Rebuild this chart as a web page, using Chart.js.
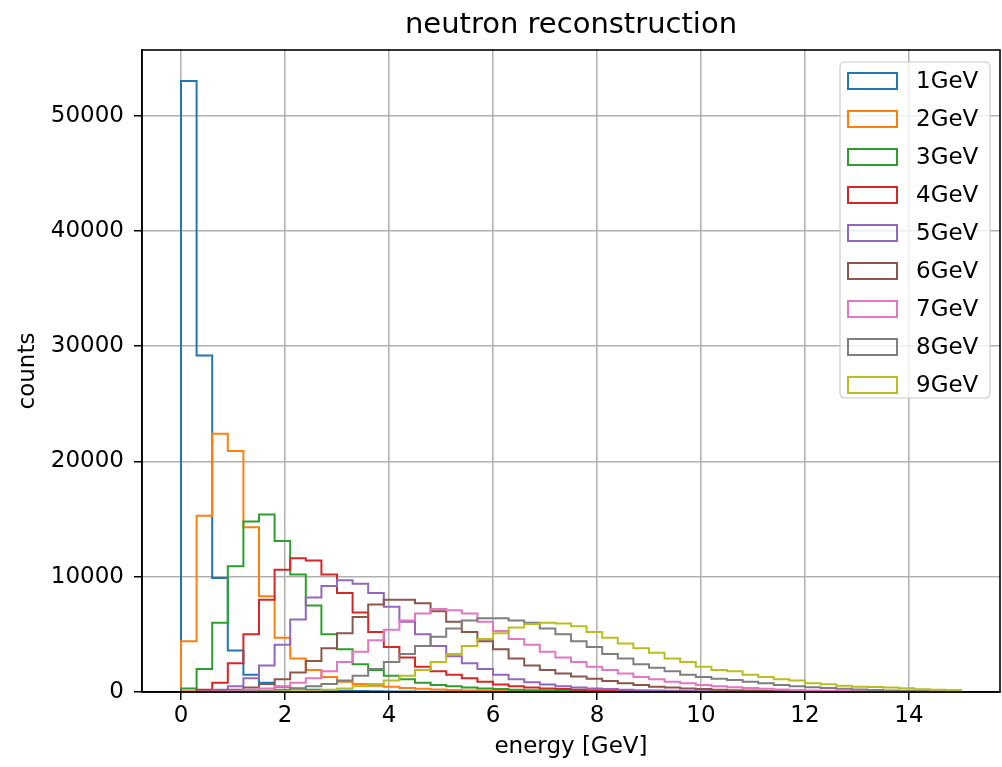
<!DOCTYPE html>
<html><head><meta charset="utf-8">
<script src="https://cdn.jsdelivr.net/npm/chart.js@4"></script>
<style>html,body{margin:0;padding:0;background:#fff}#wrap{width:1002px;height:767px}</style>
</head><body><div id="wrap"><canvas id="c" width="1002" height="767"></canvas></div>
<script>
const titleText = 'neutron reconstruction';
const xTitle = 'energy [GeV]';
const yTitle = 'counts';
const seriesLabels = ['1GeV','2GeV','3GeV','4GeV','5GeV','6GeV','7GeV','8GeV','9GeV'];
const binEdges = [0,0.3,0.6,0.9,1.2,1.5,1.8,2.1,2.4,2.7,3.0,3.3,3.6,3.9,4.2,4.5,4.8,5.1,5.4,5.7,6.0,6.3,6.6,6.9,7.2,7.5,7.8,8.1,8.4,8.7,9.0,9.3,9.6,9.9,10.2,10.5,10.8,11.1,11.4,11.7,12.0,12.3,12.6,12.9,13.2,13.5,13.8,14.1,14.4,14.7,15.0];
const xTickValues = [0,2,4,6,8,10,12,14];
const yTickValues = [0,10000,20000,30000,40000,50000];

const counts1GeV = [53000,29200,9900,3600,1500,800,450,300,200,150, 100,80,60,50,40,30,30,20,20,10, 10,10,0,0,0,0,0,0,0,0, 0,0,0,0,0,0,0,0,0,0, 0,0,0,0,0,0,0,0,0,0];
const counts2GeV = [4400,15300,22400,20900,14300,8300,4700,2900,1900,1300, 900,700,550,450,350,280,220,170,130,100, 80,60,50,40,30,20,20,10,10,10, 0,0,0,0,0,0,0,0,0,0, 0,0,0,0,0,0,0,0,0,0];
const counts3GeV = [300,2000,6000,10900,14800,15400,13100,10200,7500,5000, 3700,2400,1900,1400,1100,800,600,500,400,300, 250,200,150,120,100,80,60,50,40,30, 20,20,10,10,10,0,0,0,0,0, 0,0,0,0,0,0,0,0,0,0];
const counts4GeV = [50,200,800,2500,5000,8000,10600,11600,11400,10200, 8600,6900,5200,3900,3000,2200,1800,1500,1200,900, 650,500,400,300,250,200,150,120,100,80, 60,50,40,30,20,20,10,10,10,0, 0,0,0,0,0,0,0,0,0,0];
const counts5GeV = [0,50,200,500,1200,2300,4100,6300,8200,9200, 9700,9400,8600,7400,6100,5000,4000,3100,2500,2000, 1500,1100,850,650,500,400,300,250,200,150, 120,100,80,60,50,40,30,20,20,10, 10,0,0,0,0,0,0,0,0,0];
const counts6GeV = [0,20,100,200,400,700,1100,1700,2700,3800, 5100,6500,7600,8000,8000,7700,7000,6100,5200,4400, 3700,2900,2300,1900,1600,1350,1150,950,750,600, 450,380,300,250,200,150,120,100,80,60, 50,40,30,20,20,10,10,0,0,0];
const counts7GeV = [0,0,50,100,200,300,500,800,1200,1800, 2600,3500,4500,5400,6200,6800,7200,7100,6800,6100, 5300,4600,4100,3500,3000,2600,2200,1900,1600,1300, 1100,900,750,600,500,420,350,280,220,180, 140,110,90,70,50,40,30,20,20,10];
const counts8GeV = [0,0,0,20,50,100,200,300,500,700, 1000,1400,2000,2600,3300,4000,4800,5500,6200,6400, 6400,6200,6000,5500,5000,4400,3900,3300,2900,2400, 2100,1800,1500,1300,1150,1050,900,750,600,500, 420,350,280,220,180,140,100,80,60,50];
const counts9GeV = [0,0,0,0,0,20,40,60,100,200, 300,500,700,1000,1400,1900,2600,3300,4000,4600, 5100,5600,5900,6000,5950,5700,5200,4700,4200,3800, 3400,2900,2600,2200,1900,1800,1500,1300,1100,1000, 750,670,550,460,440,380,320,230,200,170];

const allCounts = [counts1GeV,counts2GeV,counts3GeV,counts4GeV,counts5GeV,counts6GeV,counts7GeV,counts8GeV,counts9GeV];
const colors = ['#1f77b4','#ff7f0e','#2ca02c','#d62728','#9467bd','#8c564b','#e377c2','#7f7f7f','#bcbd22'];
const FONT = 'DejaVu Sans';

function stepPoints(values){
  const pts = [{x: binEdges[0], y: 0}];
  values.forEach((v, i) => pts.push({x: binEdges[i], y: v}));
  pts.push({x: binEdges[binEdges.length - 1], y: 0});
  return pts;
}

const datasets = allCounts.map((vals, i) => ({
  label: seriesLabels[i],
  data: stepPoints(vals),
  borderColor: colors[i],
  backgroundColor: colors[i],
  borderWidth: 2,
  pointRadius: 0,
  fill: false,
  stepped: 'before',
  tension: 0,
  order: -i
}));

const frameAndLegend = {
  id: 'frameAndLegend',
  afterDatasetsDraw(chart) {
    const ctx = chart.ctx, a = chart.chartArea;
    ctx.save();
    ctx.strokeStyle = '#000'; ctx.lineWidth = 1.6;
    ctx.strokeRect(a.left, a.top, a.right - a.left, a.bottom - a.top);
    const w = 150, h = 336;
    const x0 = a.right - 10 - w, y0 = a.top + 12;
    const r = 5;
    ctx.beginPath();
    ctx.moveTo(x0 + r, y0); ctx.lineTo(x0 + w - r, y0); ctx.quadraticCurveTo(x0 + w, y0, x0 + w, y0 + r);
    ctx.lineTo(x0 + w, y0 + h - r); ctx.quadraticCurveTo(x0 + w, y0 + h, x0 + w - r, y0 + h);
    ctx.lineTo(x0 + r, y0 + h); ctx.quadraticCurveTo(x0, y0 + h, x0, y0 + h - r);
    ctx.lineTo(x0, y0 + r); ctx.quadraticCurveTo(x0, y0, x0 + r, y0); ctx.closePath();
    ctx.fillStyle = 'rgba(255,255,255,0.8)'; ctx.fill();
    ctx.strokeStyle = '#cccccc'; ctx.lineWidth = 1.2; ctx.stroke();
    ctx.font = '23px "' + FONT + '"'; ctx.textBaseline = 'middle'; ctx.textAlign = 'left';
    chart.data.datasets.forEach((ds, i) => {
      const cy = y0 + 19 + i * 38;
      ctx.strokeStyle = ds.borderColor; ctx.lineWidth = 2;
      ctx.strokeRect(x0 + 8, cy - 8, 49, 16);
      ctx.fillStyle = '#000';
      ctx.fillText(ds.label, x0 + 76, cy + 1);
    });
    ctx.restore();
  }
};

new Chart(document.getElementById('c'), {
  type: 'line',
  data: { datasets },
  options: {
    responsive: false,
    animation: false,
    devicePixelRatio: 1,
    layout: { padding: { top: 0, right: 2, left: 0, bottom: 0 } },
    plugins: {
      legend: { display: false },
      tooltip: { enabled: false },
      title: {
        display: true, text: titleText, fullSize: false, color: '#000',
        font: { family: FONT, size: 29, weight: 'normal' },
        padding: { top: 8, bottom: 7.2 }
      }
    },
    scales: {
      x: {
        type: 'linear', min: -0.75, max: 15.75,
        afterBuildTicks: s => { s.ticks = xTickValues.map(v => ({ value: v })); },
        afterFit: s => { s.height = 75; },
        ticks: { color: '#000', font: { family: FONT, size: 23 }, padding: 2, maxRotation: 0, callback: v => String(v) },
        grid: { color: '#b0b0b0', lineWidth: 1.5, tickColor: '#000', tickLength: 8, tickWidth: 1.5 },
        border: { display: true, color: '#000', width: 1.6 },
        title: { display: true, text: xTitle, color: '#000', font: { family: FONT, size: 23 }, padding: { top: 0, bottom: 6 } }
      },
      y: {
        type: 'linear', min: 0, max: 55700,
        afterBuildTicks: s => { s.ticks = yTickValues.map(v => ({ value: v })); },
        afterFit: s => { s.width = 142; },
        ticks: { color: '#000', font: { family: FONT, size: 23 }, padding: 10, callback: v => String(v) },
        grid: { color: '#b0b0b0', lineWidth: 1.5, tickColor: '#000', tickLength: 8, tickWidth: 1.5 },
        border: { display: true, color: '#000', width: 1.6 },
        title: { display: true, text: yTitle, color: '#000', font: { family: FONT, size: 23 }, padding: { top: 14, bottom: 4 } }
      }
    }
  },
  plugins: [frameAndLegend]
});
</script>
</body></html>
